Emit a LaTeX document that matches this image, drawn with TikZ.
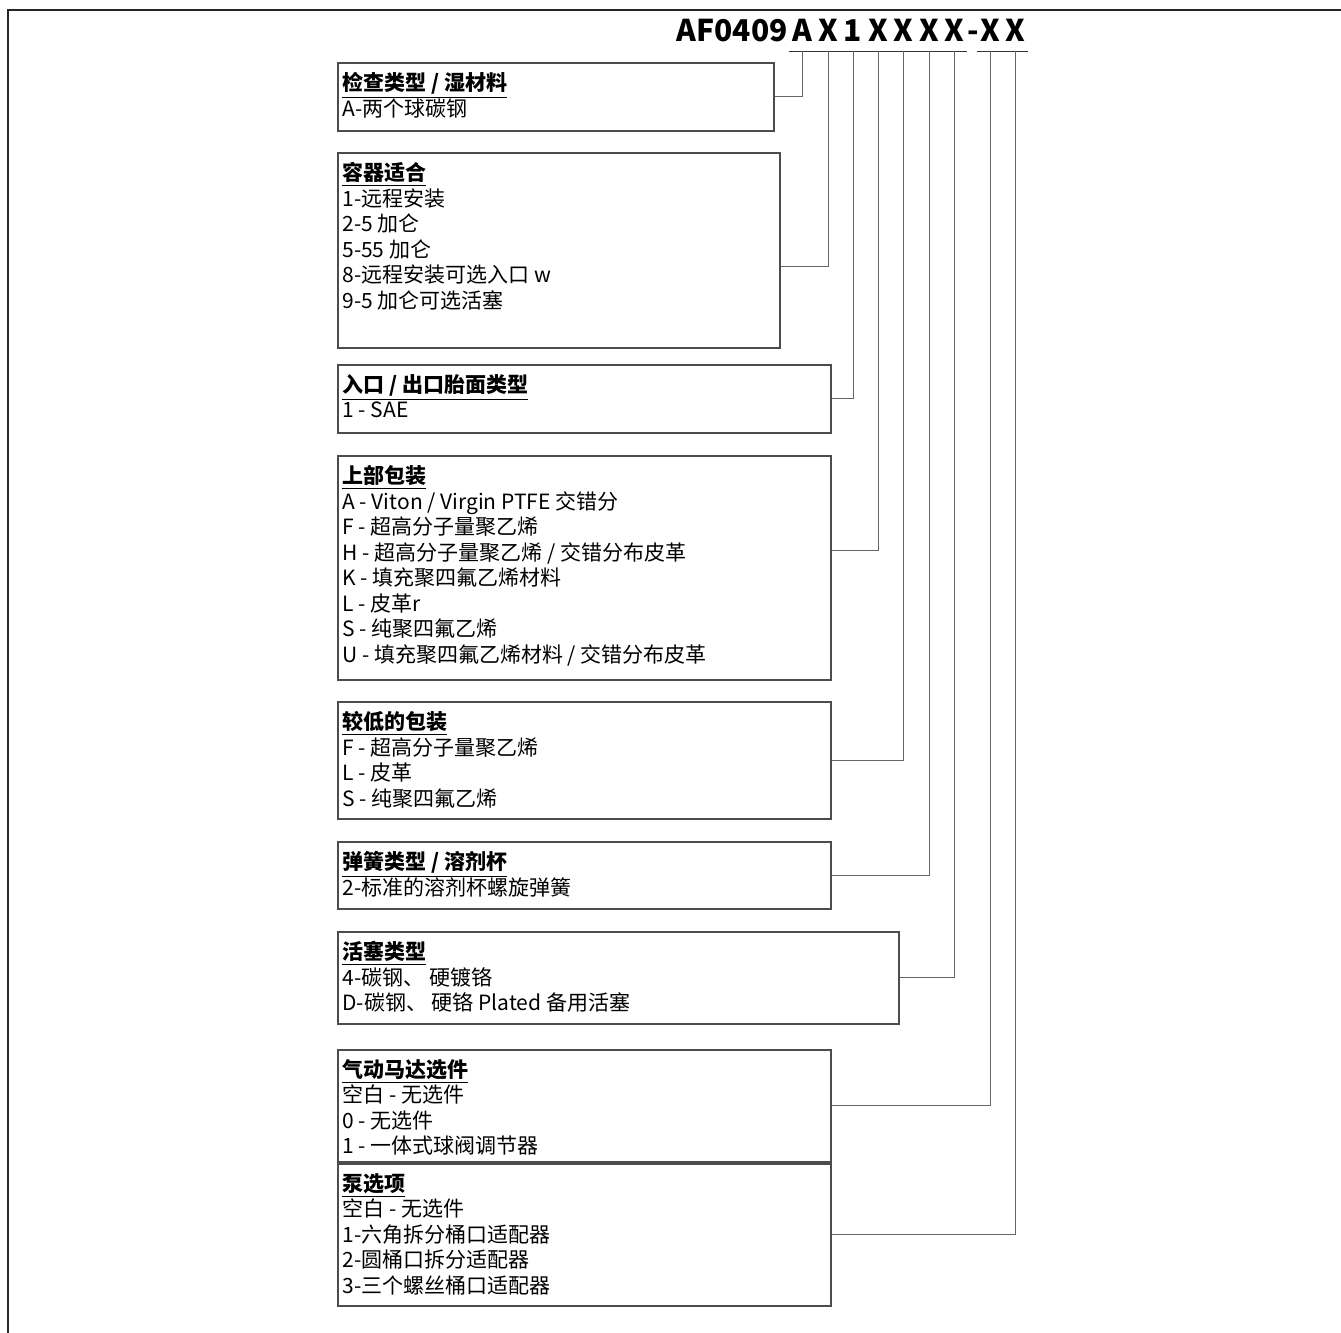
\documentclass[tikz,border=0pt]{standalone}
\usepackage{fontspec}
\setmainfont{Noto Sans CJK SC}
\usetikzlibrary{positioning}
\newcommand{\boxtitle}[1]{\underline{\textbf{#1}}}
\newcommand{\boxfont}{\fontsize{10.5pt}{12.75pt}\selectfont\lineskiplimit=-20pt\relax}
\begin{document}
\begin{tikzpicture}[x=1pt, y=-1pt,
    box/.style={draw=black!70, line width=0.75pt, anchor=north west, inner sep=0pt},
    txt/.style={anchor=north west, align=left, inner xsep=2.5pt, inner ysep=5pt,
                font=\boxfont},
    hdr/.style={font=\fontsize{15pt}{15pt}\selectfont\bfseries, anchor=base,
                inner xsep=1.6pt, inner ysep=0.5pt, text depth=4.5pt},
    uline/.style={line width=0.8pt, black!80},
    link/.style={black!60, line width=0.5pt},
    frame/.style={black!85, line width=1pt}]

  \useasboundingbox (0,0) rectangle (670.5,666.5);

  % 外框 (上, 左)
  \draw[frame] (4,666.5) |- (670.5,5);

  % 型号
  \node[hdr, anchor=base east, inner xsep=0pt] (code) at (394,20.5) {AF0409};
  \node[hdr] (h1) at (401,20.5)   {A};
  \node[hdr] (h2) at (414,20.5)   {X};
  \node[hdr] (h3) at (426.5,20.5) {1};
  \node[hdr] (h4) at (439,20.5)   {X};
  \node[hdr] (h5) at (451.5,20.5) {X};
  \node[hdr] (h6) at (464.5,20.5) {X};
  \node[hdr] (h7) at (477,20.5)   {X};
  \node[hdr, anchor=base west, inner xsep=0pt] (dash) at (h7.base east) {-};
  \node[hdr] (h8) at (495,20.5)   {X};
  \node[hdr] (h9) at (507.5,20.5) {X};

  \foreach \h in {h1,h2,h3,h4,h5,h6,h7,h8,h9}
    \draw[uline] (\h.south west) -- (\h.south east);

  % 选项框
  \node[box, minimum width=218pt,   minimum height=34pt]   (b1) at (168.5,31)    {};
  \node[box, minimum width=221pt,   minimum height=97.5pt] (b2) at (168.5,76)    {};
  \node[box, minimum width=246.5pt, minimum height=34pt]   (b3) at (168.5,182)   {};
  \node[box, minimum width=246.5pt, minimum height=112pt]  (b4) at (168.5,227.5) {};
  \node[box, minimum width=246.5pt, minimum height=58.5pt] (b5) at (168.5,350.5) {};
  \node[box, minimum width=246.5pt, minimum height=33.5pt] (b6) at (168.5,420.5) {};
  \node[box, minimum width=280.5pt, minimum height=46pt]   (b7) at (168.5,465.5) {};
  \node[box, minimum width=246.5pt, minimum height=56pt]   (b8) at (168.5,524.5) {};
  \node[box, minimum width=246.5pt, minimum height=71pt]   (b9) at (168.5,581.5) {};

  % 框内文字
  \node[txt] (t1) at (b1.north west) {\boxtitle{检查类型 / 湿材料}\\A-两个球碳钢};
  \node[txt] (t2) at (b2.north west) {\boxtitle{容器适合}\\1-远程安装\\2-5 加仑\\5-55 加仑\\8-远程安装可选入口 w\\9-5 加仑可选活塞};
  \node[txt] (t3) at (b3.north west) {\boxtitle{入口 / 出口胎面类型}\\1 - SAE};
  \node[txt] (t4) at (b4.north west) {\boxtitle{上部包装}\\A - Viton / Virgin PTFE 交错分\\F - 超高分子量聚乙烯\\H - 超高分子量聚乙烯 / 交错分布皮革\\K - 填充聚四氟乙烯材料\\L - 皮革r\\S - 纯聚四氟乙烯\\U - 填充聚四氟乙烯材料 / 交错分布皮革};
  \node[txt] (t5) at (b5.north west) {\boxtitle{较低的包装}\\F - 超高分子量聚乙烯\\L - 皮革\\S - 纯聚四氟乙烯};
  \node[txt] (t6) at (b6.north west) {\boxtitle{弹簧类型 / 溶剂杯}\\2-标准的溶剂杯螺旋弹簧};
  \node[txt] (t7) at (b7.north west) {\boxtitle{活塞类型}\\4-碳钢、 硬镀铬\\D-碳钢、 硬铬 Plated 备用活塞};
  \node[txt] (t8) at (b8.north west) {\boxtitle{气动马达选件}\\空白 - 无选件\\0 - 无选件\\1 - 一体式球阀调节器};
  \node[txt] (t9) at (b9.north west) {\boxtitle{泵选项}\\空白 - 无选件\\1-六角拆分桶口适配器\\2-圆桶口拆分适配器\\3-三个螺丝桶口适配器};

  % 框到型号位
  \draw[link] (b1.east) -| (h1.south);
  \draw[link] ([yshift=-8.25pt]b2.east) -| (h2.south);
  \draw[link] (b3.east) -| (h3.south);
  \draw[link] ([yshift=8.5pt]b4.east) -| (h4.south);
  \draw[link] (b5.east) -| (h5.south);
  \draw[link] (b6.east) -| (h6.south);
  \draw[link] (b7.east) -| (h7.south);
  \draw[link] (b8.east) -| (h8.south);
  \draw[link] (b9.east) -| (h9.south);

\end{tikzpicture}
\end{document}
